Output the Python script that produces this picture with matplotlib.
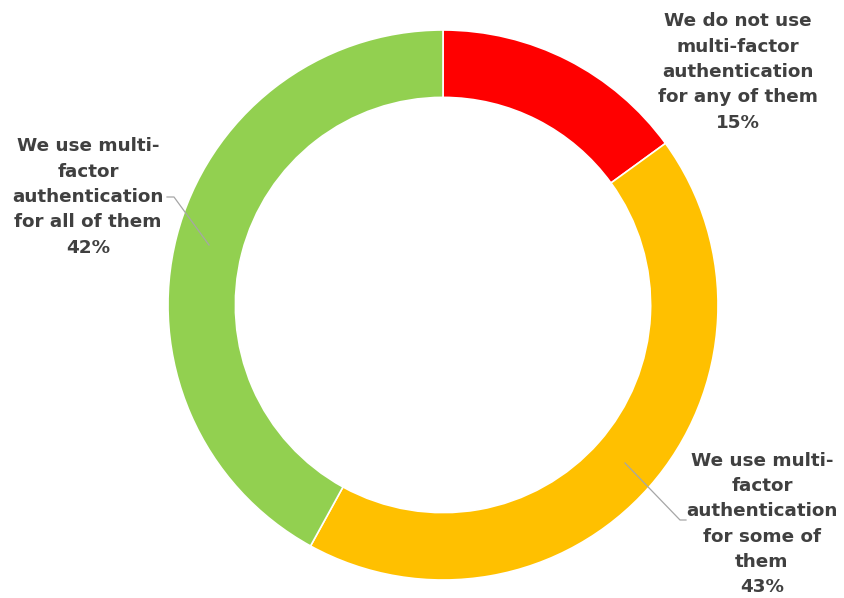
import matplotlib
matplotlib.use("Agg")
import matplotlib.pyplot as plt

categories = ["We do not use\nmulti-factor\nauthentication\nfor any of them",
              "We use multi-\nfactor\nauthentication\nfor some of\nthem",
              "We use multi-\nfactor\nauthentication\nfor all of them"]
values = [15, 43, 42]
colors = ["#FF0000", "#FFC000", "#92D050"]

W, H = 845, 598
fig = plt.figure(figsize=(W / 100, H / 100), dpi=100)
ax = fig.add_axes([0, 0, 1, 1])
ax.set_xlim(0, W)
ax.set_ylim(0, H)
ax.set_aspect("equal")
ax.axis("off")

cx, cy = 443, H - 305
R = 275
ax.pie(values, colors=colors, startangle=90, counterclock=False,
       center=(cx, cy), radius=R, frame=True,
       wedgeprops=dict(width=R * 0.245, edgecolor="white", linewidth=1.2))
ax.set_xlim(0, W)
ax.set_ylim(0, H)
ax.axis("off")

txt = dict(ha="center", va="center", fontsize=13.2, fontweight="bold",
           color="#404040", linespacing=1.52, family="DejaVu Sans")
label_pos = [(738, H - 72), (762, H - 524), (88, H - 197)]
for lab, v, (x, y) in zip(categories, values, label_pos):
    ax.text(x, y, f"{lab}\n{v}%", **txt)

lc = "#A6A6A6"
ax.plot([209, 174, 167], [H - 245, H - 197, H - 197], color=lc, lw=0.9)
ax.plot([625, 680, 686], [H - 463, H - 520, H - 520], color=lc, lw=0.9)

fig.savefig("out.png", dpi=100)
